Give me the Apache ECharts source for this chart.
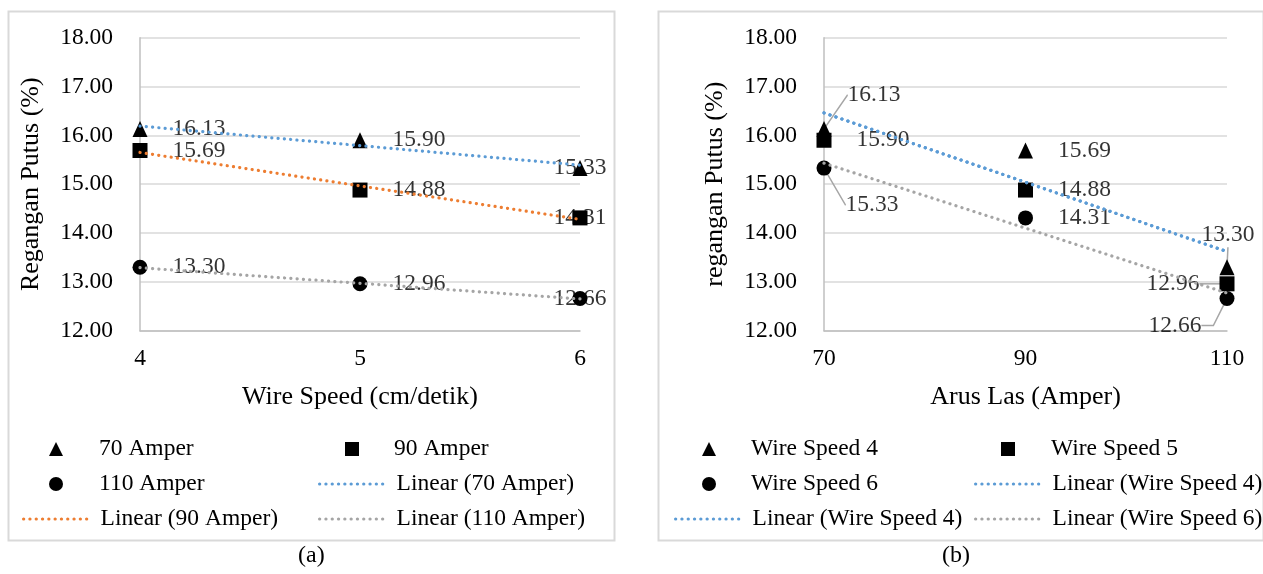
<!DOCTYPE html>
<html><head><meta charset="utf-8">
<script src="https://cdn.jsdelivr.net/npm/echarts@6/dist/echarts.min.js"></script>
<style>html,body{margin:0;padding:0;background:#fff}#c{width:1263px;height:574px}</style>
</head><body><div id="c"></div>
<script>
// ---------- Panel (a): x = Wire Speed ----------
const wireSpeed = [4, 5, 6];
const amp70 = [16.13, 15.90, 15.33];
const amp90 = [15.69, 14.88, 14.31];
const amp110 = [13.30, 12.96, 12.66];
// trendline end values (at wire speed 4 and 6)
const trendX_a = [4, 6];
const trendA70 = [16.19, 15.39];
const trendA90 = [15.65, 14.28];
const trendA110 = [13.29, 12.65];
// ---------- Panel (b): x = Arus Las ----------
const arusLas = [70, 90, 110];
const ws4 = [16.13, 15.69, 13.30];
const ws5 = [15.90, 14.88, 12.96];
const ws6 = [15.33, 14.31, 12.66];
// trendline end values (at 70 and 110 Amper)
const trendX_b = [70, 110];
const trendB4 = [16.46, 13.62];
const trendB4dup = [16.46, 13.62];
const trendB6 = [15.43, 12.77];
// ---------- axis ticks ----------
const yTicks = [12, 13, 14, 15, 16, 17, 18];
const xTicksA = [4, 5, 6];
const xTicksB = [70, 90, 110];

const FONT = '"Liberation Serif", "Times New Roman", serif';
const FS = 23.5;
const BLUE = '#5b9bd5', ORANGE = '#ed7d31', GRAY = '#a5a5a5';
const DOT = [0.1, 6.2];

function pts(xs, ys) { return xs.map((x, i) => [x, ys[i]]); }

function markerSeries(name, xs, ys, symbol, size, gi) {
  return { name, type: 'scatter', xAxisIndex: gi, yAxisIndex: gi, data: pts(xs, ys),
    symbol, symbolSize: size, itemStyle: { color: '#000', opacity: 1 }, z: 3, silent: true, animation: false };
}
function trendSeries(name, xs, ys, color, gi) {
  return { name, type: 'line', xAxisIndex: gi, yAxisIndex: gi, data: pts(xs, ys),
    symbol: 'none', lineStyle: { color, width: 3.2, type: DOT, cap: 'round', opacity: 1 },
    itemStyle: { color }, z: 4, silent: true, animation: false };
}
// label series (drawn beneath markers); offsets = label placement style
function labelSeries(id, xs, ys, gi, offsets, leaders) {
  const data = pts(xs, ys).map((p, i) => {
    const d = { value: p };
    if (leaders && leaders[i]) d.labelLine = { show: true, length2: leaders[i] };
    return d;
  });
  return { name: id, type: 'scatter', xAxisIndex: gi, yAxisIndex: gi, data,
    symbolSize: 1, itemStyle: { color: 'rgba(0,0,0,0)' }, z: 2, silent: true, animation: false,
    label: { show: true, position: 'right', distance: 32, color: '#000', fontFamily: FONT, fontSize: FS,
      formatter: p => p.value[1].toFixed(2) },
    labelLine: { show: false, lineStyle: { color: '#a6a6a6', width: 1.5 } },
    labelLayout: p => { const o = offsets[p.dataIndex] || [0, 0]; return { dx: o[0], dy: o[1] }; } };
}

const axisLineStyle = { show: true, lineStyle: { color: '#bfbfbf', width: 1.5 } };
const gridLineStyle = { show: true, lineStyle: { color: '#d9d9d9', width: 1.5 } };
const tickText = { color: '#000', fontFamily: FONT, fontSize: FS };
const nameText = { color: '#000', fontFamily: FONT, fontSize: 26 };

function xAxis(gi, ticks, name) {
  return { type: 'value', gridIndex: gi, min: ticks[0], max: ticks[ticks.length - 1],
    interval: ticks[1] - ticks[0], axisLine: axisLineStyle, axisTick: { show: false },
    splitLine: { show: false }, axisLabel: Object.assign({ margin: 16 }, tickText),
    name, nameLocation: 'middle', nameGap: 53, nameTextStyle: nameText };
}
function yAxis(gi, name) {
  return { type: 'value', gridIndex: gi, min: yTicks[0], max: yTicks[yTicks.length - 1],
    interval: yTicks[1] - yTicks[0], axisLine: axisLineStyle, axisTick: { show: false },
    splitLine: gridLineStyle,
    axisLabel: Object.assign({ margin: 27, formatter: v => v.toFixed(2) }, tickText),
    name, nameLocation: 'middle', nameGap: 96, nameTextStyle: nameText };
}

// legends: one component per entry to reproduce the two-column layout
const legends = [];
function legendLine(name, left, cy) {
  legends.push({ data: [name], left, top: cy - 12, padding: 0, itemWidth: 67, itemHeight: 14,
    selectedMode: false, itemStyle: { opacity: 0 },
    lineStyle: { width: 3.2, type: DOT, cap: 'round', opacity: 1 },
    textStyle: { color: '#000', fontFamily: FONT, fontSize: FS, padding: [0, 0, 0, 5] } });
}
function legendMarker(name, cx, textLeft, cy) {
  legends.push({ data: [name], left: cx - 7, top: cy - 12, padding: 0, itemWidth: 14, itemHeight: 14,
    selectedMode: false, itemStyle: { opacity: 1 },
    textStyle: { color: '#000', fontFamily: FONT, fontSize: FS, padding: [0, 0, 0, textLeft - (cx + 12)] } });
}
const rows = [449, 484, 519];
legendMarker('70 Amper', 56, 99, rows[0]);
legendMarker('90 Amper', 352, 394, rows[0]);
legendMarker('110 Amper', 56, 99, rows[1]);
legendLine('Linear (70 Amper)', 318, rows[1]);
legendLine('Linear (90 Amper)', 22, rows[2]);
legendLine('Linear (110 Amper)', 318, rows[2]);
legendMarker('Wire Speed 4', 709, 751, rows[0]);
legendMarker('Wire Speed 5', 1008, 1051, rows[0]);
legendMarker('Wire Speed 6', 709, 751, rows[1]);
legendLine('Linear (Wire Speed 4)', 974, rows[1]);
legendLine('Linear (Wire Speed 4)', 674, rows[2]);
legendLine('Linear (Wire Speed 6)', 974, rows[2]);

const chart = echarts.init(document.getElementById('c'), null, { renderer: 'canvas' });
chart.setOption({
  backgroundColor: '#fff',
  animation: false,
  grid: [
    { left: 140, top: 37.7, width: 440, height: 293, outerBoundsMode: 'none' },
    { left: 824, top: 37.7, width: 403, height: 293, outerBoundsMode: 'none' }
  ],
  xAxis: [xAxis(0, xTicksA, 'Wire Speed (cm/detik)'), xAxis(1, xTicksB, 'Arus Las (Amper)')],
  yAxis: [yAxis(0, 'Regangan Putus (%)'), yAxis(1, 'regangan Putus (%)')],
  legend: legends,
  graphic: [
    { type: 'rect', left: 6, top: 9, shape: { width: 606, height: 529 }, style: { fill: 'none', stroke: '#d9d9d9', lineWidth: 2 }, z: 0, silent: true },
    { type: 'rect', left: 656, top: 9, shape: { width: 605, height: 529 }, style: { fill: 'none', stroke: '#d9d9d9', lineWidth: 2 }, z: 0, silent: true },
    { type: 'text', left: 298, top: 544, style: { text: '(a)', font: '24px ' + FONT, fill: '#000' } },
    { type: 'text', left: 942, top: 544, style: { text: '(b)', font: '24px ' + FONT, fill: '#000' } }
  ],
  series: [
    labelSeries('lbl70', wireSpeed, amp70, 0, [[0, 0], [0, 0], [-59, 0]]),
    labelSeries('lbl90', wireSpeed, amp90, 0, [[0, 0], [0, 0], [-59, 0]]),
    labelSeries('lbl110', wireSpeed, amp110, 0, [[0, 0], [0, 0], [-59, 0]]),
    markerSeries('70 Amper', wireSpeed, amp70, 'triangle', [15, 16], 0),
    markerSeries('90 Amper', wireSpeed, amp90, 'rect', 15, 0),
    markerSeries('110 Amper', wireSpeed, amp110, 'circle', 15, 0),
    trendSeries('Linear (70 Amper)', trendX_a, trendA70, BLUE, 0),
    trendSeries('Linear (90 Amper)', trendX_a, trendA90, ORANGE, 0),
    trendSeries('Linear (110 Amper)', trendX_a, trendA110, GRAY, 0),

    labelSeries('lblWS4', arusLas, ws4, 1, [[-9, -34], [0, 0], [-58, -32]], [0.01, 0, 0.01]),
    labelSeries('lblWS5', arusLas, ws5, 1, [[0, 0], [0, 0], [-113, 0]], [0, 0, 0.01]),
    labelSeries('lblWS6', arusLas, ws6, 1, [[-11, 37], [0, 0], [-111, 27]], [0.01, 0, 12]),
    markerSeries('Wire Speed 4', arusLas, ws4, 'triangle', [15, 16], 1),
    markerSeries('Wire Speed 5', arusLas, ws5, 'rect', 15, 1),
    markerSeries('Wire Speed 6', arusLas, ws6, 'circle', 15, 1),
    trendSeries('Linear (Wire Speed 4)', trendX_b, trendB4, BLUE, 1),
    trendSeries('Linear (Wire Speed 4)', trendX_b, trendB4dup, BLUE, 1),
    trendSeries('Linear (Wire Speed 6)', trendX_b, trendB6, GRAY, 1)
  ]
});
</script></body></html>
